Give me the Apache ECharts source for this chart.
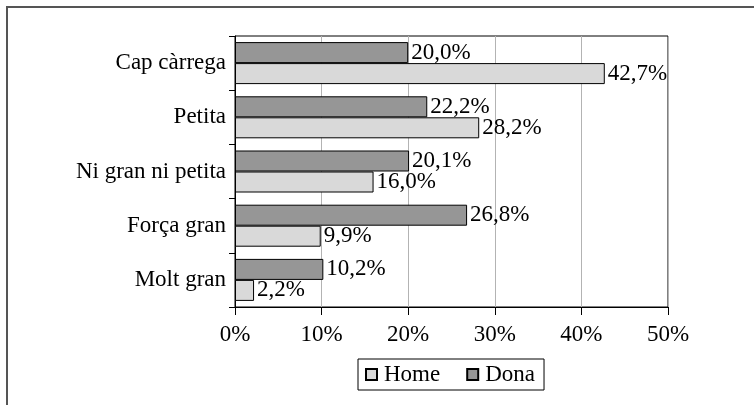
<!DOCTYPE html>
<html>
<head>
<meta charset="utf-8">
<script src="https://cdn.jsdelivr.net/npm/echarts@6/dist/echarts.min.js"></script>
<style>
  html, body { margin: 0; padding: 0; background: #fff; }
  #chart { width: 754px; height: 405px; }
</style>
</head>
<body>
<div id="chart"></div>
<script>
// dades
var categories = ['Cap càrrega', 'Petita', 'Ni gran ni petita', 'Força gran', 'Molt gran'];
var home = [42.7, 28.2, 16.0, 9.9, 2.2];
var dona = [20.0, 22.2, 20.1, 26.8, 10.2];
var xTicks = [0, 10, 20, 30, 40, 50];

var FONT = '"Liberation Serif", "DejaVu Serif", serif';
var FS = 23;

function pct(v) {
  return v.toFixed(1).replace('.', ',') + '%';
}

var myChart = echarts.init(document.getElementById('chart'), null, { renderer: 'canvas' });

myChart.setOption({
  animation: false,
  textStyle: { fontFamily: FONT },
  graphic: [
    { // marc exterior
      type: 'polyline',
      shape: { points: [[7, 405], [7, 7], [754, 7]] },
      style: { stroke: '#555', lineWidth: 2, fill: null }
    }
  ],
  grid: {
    left: 235, right: 86, top: 36, bottom: 98,
    show: true,
    borderColor: '#000',
    borderWidth: 1
  },
  legend: {
    data: ['Home', 'Dona'],
    bottom: 15,
    left: 358,
    icon: 'rect',
    itemWidth: 11,
    itemHeight: 11,
    itemGap: 26,
    borderColor: '#000',
    borderWidth: 1,
    padding: [4, 9, 4, 7],
    textStyle: { fontFamily: FONT, fontSize: FS, color: '#000', padding: [0, 0, 0, 2] }
  },
  xAxis: {
    type: 'value',
    min: 0,
    max: 50,
    interval: 10,
    axisLine: { show: true, lineStyle: { color: '#000', width: 1 } },
    axisTick: { show: true, length: 8, lineStyle: { color: '#000' } },
    splitLine: { show: true, lineStyle: { color: '#b3b3b3', width: 1 } },
    axisLabel: {
      color: '#000', fontSize: FS, fontFamily: FONT, margin: 16,
      formatter: function (v) { return xTicks.indexOf(v) >= 0 ? v + '%' : ''; }
    }
  },
  yAxis: {
    type: 'category',
    data: categories,
    inverse: true,
    axisLine: { show: true, lineStyle: { color: '#000', width: 1 } },
    axisTick: { show: true, length: 6, lineStyle: { color: '#000' } },
    axisLabel: { color: '#000', fontSize: FS, fontFamily: FONT, margin: 9 }
  },
  series: [
    {
      name: 'Dona',
      type: 'bar',
      data: dona,
      barWidth: 21,
      barGap: '0%',
      barCategoryGap: '23%',
      itemStyle: { color: '#969696', borderColor: '#000', borderWidth: 1 },
      label: {
        show: true, position: 'right', distance: 3,
        color: '#000', fontSize: FS, fontFamily: FONT,
        formatter: function (p) { return pct(p.value); }
      }
    },
    {
      name: 'Home',
      type: 'bar',
      data: home,
      barWidth: 21,
      barGap: '0%',
      barCategoryGap: '23%',
      itemStyle: { color: '#d9d9d9', borderColor: '#000', borderWidth: 1 },
      label: {
        show: true, position: 'right', distance: 3,
        color: '#000', fontSize: FS, fontFamily: FONT,
        formatter: function (p) { return pct(p.value); }
      }
    }
  ]
});
</script>
</body>
</html>
